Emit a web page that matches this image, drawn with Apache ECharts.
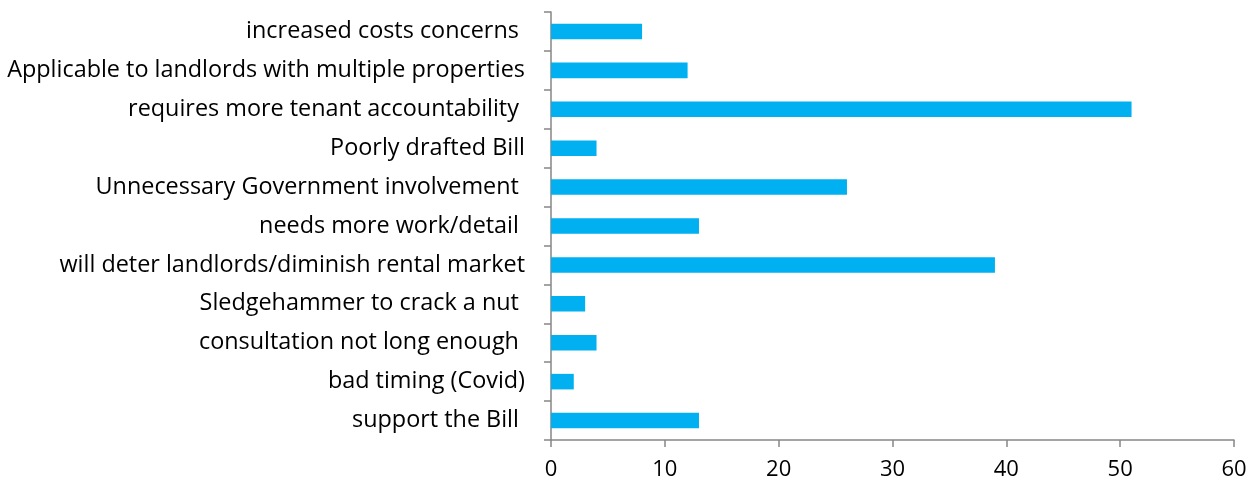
<!DOCTYPE html>
<html>
<head>
<meta charset="utf-8">
<script src="https://cdn.jsdelivr.net/npm/echarts@6/dist/echarts.min.js"></script>
<style>
  html, body { margin: 0; padding: 0; background: #ffffff; }
  #chart { width: 1256px; height: 486px; }
</style>
</head>
<body>
<div id="chart"></div>
<script>
// Reasons given, listed bottom to top as the category axis draws them
const categories = [
  'support the Bill ',
  'bad timing (Covid)',
  'consultation not long enough ',
  'Sledgehammer to crack a nut ',
  'will deter landlords/diminish rental market',
  'needs more work/detail ',
  'Unnecessary Government involvement ',
  'Poorly drafted Bill',
  'requires more tenant accountability ',
  'Applicable to landlords with multiple properties',
  'increased costs concerns '
];
const counts = [13, 2, 4, 3, 39, 13, 26, 4, 51, 12, 8];
const xTicks = { min: 0, max: 60, interval: 10 };

const axisGray = '#868686';
const fontFamily = '"Open Sans", "Noto Sans", sans-serif';

const chart = echarts.init(document.getElementById('chart'), null, { renderer: 'canvas' });
chart.setOption({
  animation: false,
  backgroundColor: '#ffffff',
  grid: { left: 551, right: 22, top: 12, bottom: 46, containLabel: false },
  xAxis: {
    type: 'value',
    min: xTicks.min,
    max: xTicks.max,
    interval: xTicks.interval,
    axisLine: { show: true, lineStyle: { color: axisGray, width: 1.5 } },
    axisTick: { show: true, length: 7, lineStyle: { color: axisGray, width: 1.5 } },
    splitLine: { show: false },
    axisLabel: { color: '#000000', fontSize: 22, fontFamily: fontFamily, margin: 19 }
  },
  yAxis: {
    type: 'category',
    data: categories,
    axisLine: { show: true, lineStyle: { color: axisGray, width: 1.5 } },
    axisTick: { show: true, length: 7, lineStyle: { color: axisGray, width: 1.5 } },
    splitLine: { show: false },
    axisLabel: { color: '#000000', fontSize: 23.4, fontFamily: fontFamily, margin: 26 }
  },
  series: [{
    type: 'bar',
    data: counts,
    barCategoryGap: '60%',
    itemStyle: { color: '#00B0F0' }
  }]
});
</script>
</body>
</html>
